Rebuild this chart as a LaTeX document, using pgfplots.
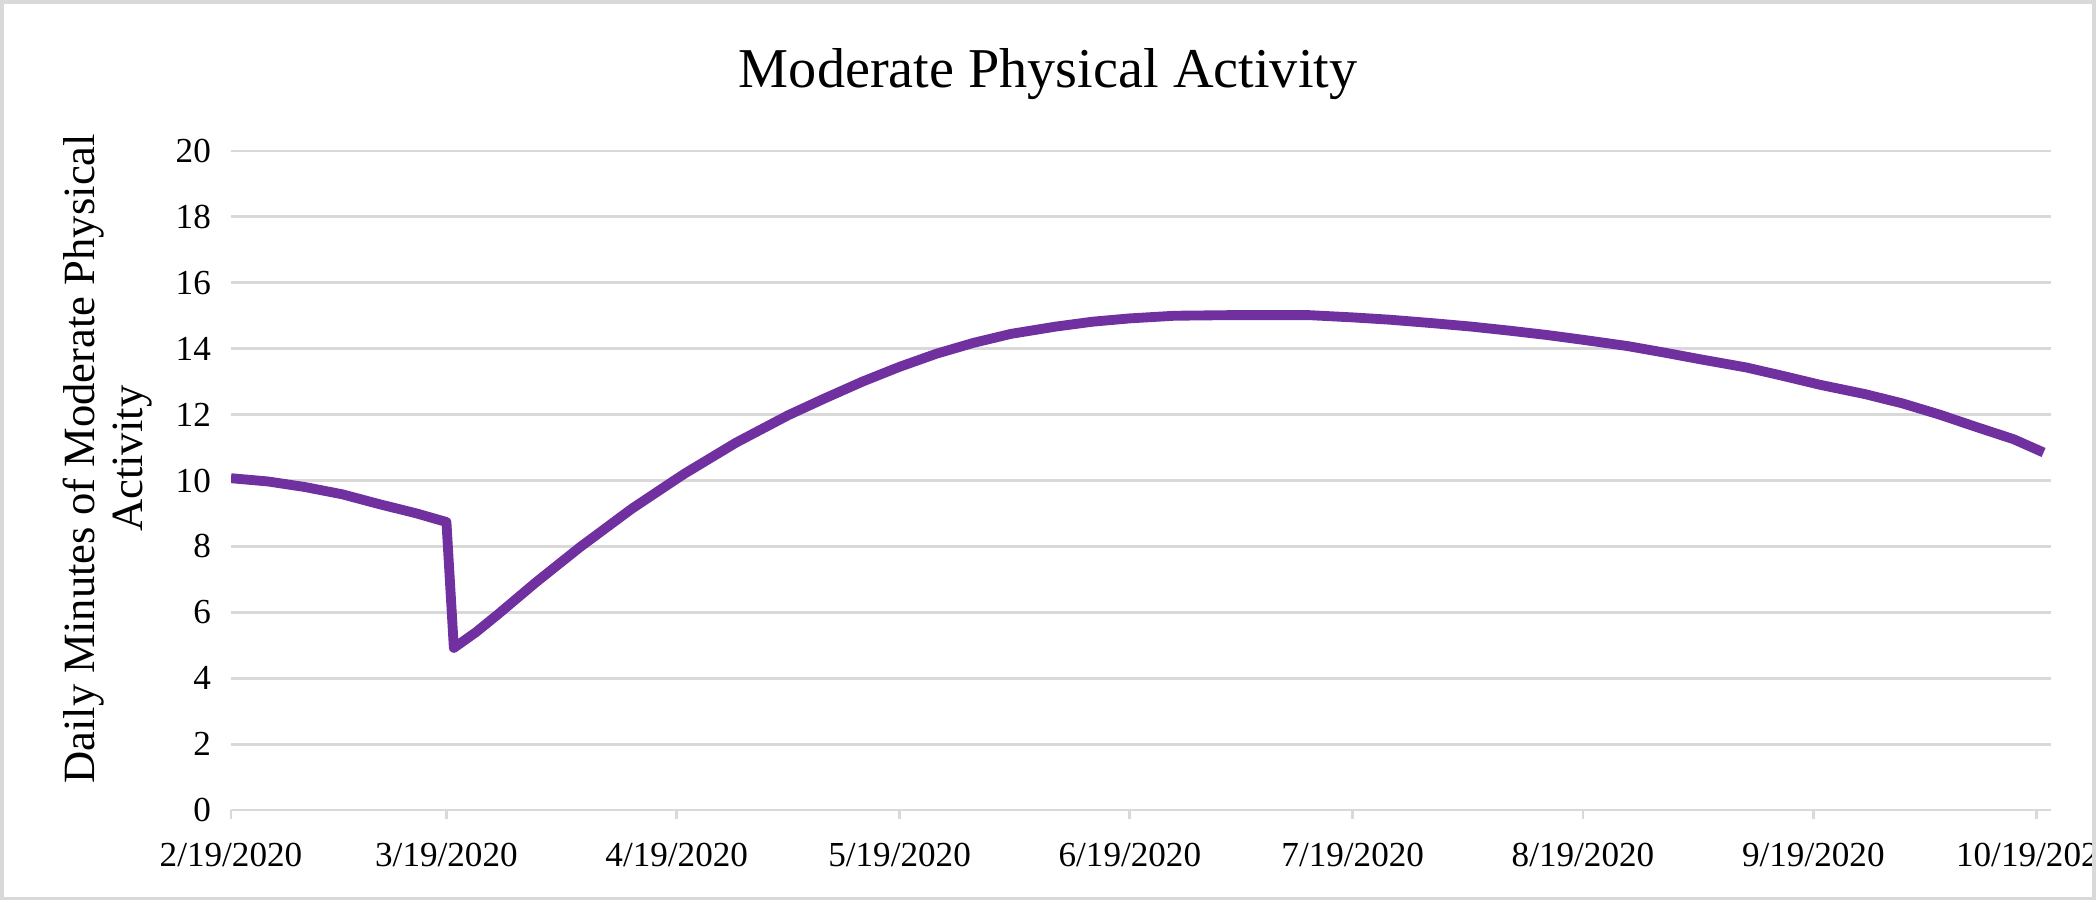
\documentclass[border=0pt]{standalone}
\usepackage{fontspec}
\setmainfont{Liberation Serif}
\usepackage{pgfplots}
\pgfplotsset{compat=1.18}
\definecolor{gridgray}{HTML}{D9D9D9}
\definecolor{linepurple}{HTML}{7030A0}

\begin{document}
\begin{tikzpicture}
\useasboundingbox (0,0) rectangle (21,9.03);
\begin{scope}
\clip (0,0) rectangle (20.92,9.03);
\begin{axis}[
    scale only axis,
    width=18.2cm, height=6.59cm,
    at={(2.31cm,0.93cm)}, anchor=south west,
    xmin=0, xmax=245,
    ymin=0, ymax=20,
    ytick={0,2,...,20},
    xtick={0,29,60,90,121,151,182,213,243},
    xticklabels={2/19/2020,3/19/2020,4/19/2020,5/19/2020,6/19/2020,7/19/2020,8/19/2020,9/19/2020,10/19/2020},
    /pgf/number format/assume math mode=true,
    axis line style={draw=none},
    ymajorgrids,
    grid style={draw=gridgray, line width=0.8pt},
    tick align=outside,
    xtick pos=left,
    major tick length=2.6pt,
    xtick style={draw=gridgray, line width=0.8pt},
    ytick style={draw=none},
    tick label style={font=\fontsize{10}{12}\selectfont},
    x tick label style={yshift=-3.3pt},
    y tick label style={xshift=0.4pt},
    title={Moderate Physical Activity},
    title style={at={(axis description cs:0.449,1.0956)}, anchor=base, yshift=-6pt,
        font=\fontsize{16}{19}\selectfont},
    ylabel={Daily Minutes of Moderate Physical\\Activity},
    ylabel style={align=center, font=\fontsize{12.7}{13.5}\selectfont,
        at={(axis description cs:-0.0679,0.533)}, anchor=center},
]

% daily minutes (x = days since 2/19/2020)
\addplot[linepurple, line width=2.8pt, line join=round, mark=none] coordinates {
    (0,10.07) (5,9.97) (10,9.8) (15,9.58) (20,9.28) (25,9.0) (29,8.74)
    (30,4.92) (33,5.4) (36,5.95) (41,6.9) (47,7.98) (54,9.15) (61,10.2)
    (68,11.15) (75,11.98) (80,12.5) (85,13.0) (90,13.45) (95,13.85)
    (100,14.18) (105,14.45) (111,14.67) (116,14.82) (121,14.92) (127,15.0)
    (135,15.02) (145,15.02) (151,14.95) (156,14.88) (162,14.77) (167,14.67)
    (172,14.55) (177,14.42) (182,14.27) (188,14.08) (193,13.88) (198,13.67)
    (204,13.43) (209,13.17) (214,12.9) (220,12.62) (225,12.34) (230,12.0)
    (235,11.62) (240,11.25) (244,10.85)
};
\end{axis}
\end{scope}
\draw[gridgray, line width=1.1pt] (0.02,0.045) rectangle (20.94,9.01);
\end{tikzpicture}
\end{document}
